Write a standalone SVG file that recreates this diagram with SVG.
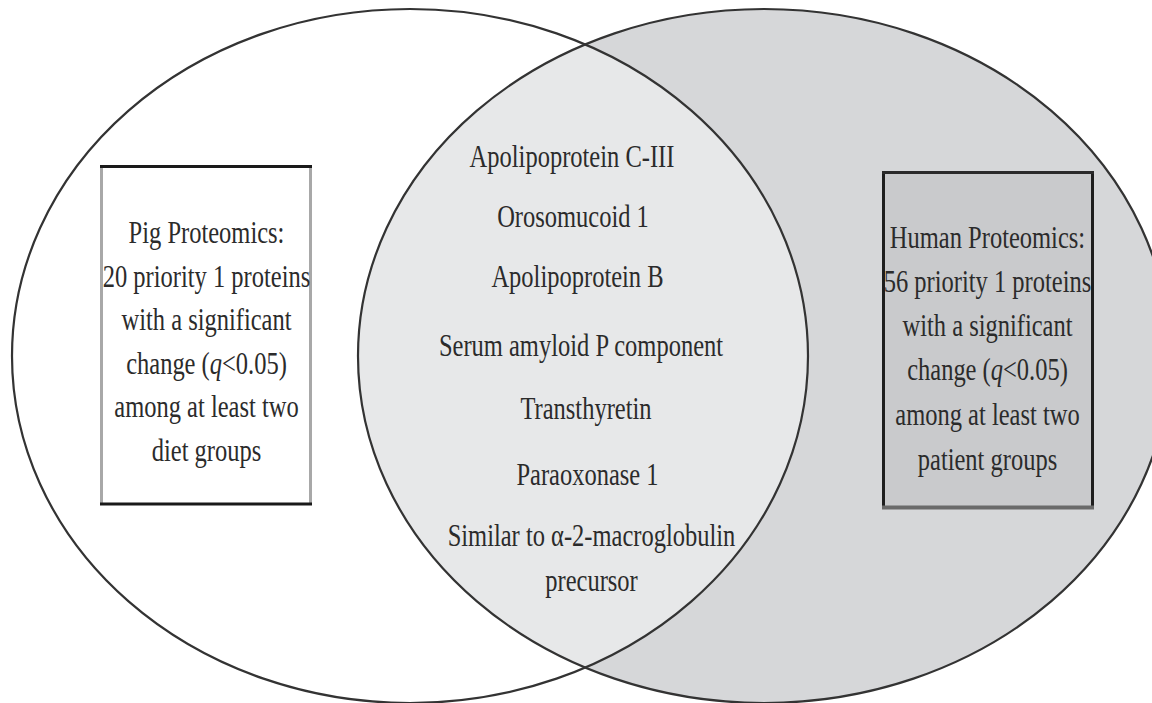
<svg xmlns="http://www.w3.org/2000/svg" width="1152" height="703" viewBox="0 0 1152 703">
  <defs>
    <clipPath id="clipLeft">
      <ellipse cx="410" cy="356" rx="398" ry="347"/>
    </clipPath>
    <style>
      .set { stroke: #333333; stroke-width: 2.2; }
      .t { font-family: "Liberation Serif", "Times New Roman", serif; font-size: 24.5px; fill: #2b2b2b; text-anchor: middle; }
      .q { font-style: italic; }
    </style>
  </defs>
  <rect x="0" y="0" width="1152" height="703" fill="#ffffff"/>

  <g id="pig-set">
    <ellipse cx="410" cy="356" rx="398" ry="347" fill="#ffffff"/>
  </g>
  <g id="human-set">
    <ellipse cx="764" cy="356" rx="406" ry="347" fill="#d6d7d9"/>
  </g>
  <g id="overlap">
    <ellipse cx="764" cy="356" rx="406" ry="347" fill="#e7e8e9" clip-path="url(#clipLeft)"/>
    <text class="t" transform="translate(572,167) scale(1,1.27)">Apolipoprotein C-III</text>
    <text class="t" transform="translate(573,227) scale(1,1.27)">Orosomucoid 1</text>
    <text class="t" transform="translate(577.5,287) scale(1,1.27)">Apolipoprotein B</text>
    <text class="t" transform="translate(581,356) scale(1,1.27)">Serum amyloid P component</text>
    <text class="t" transform="translate(586,419) scale(1,1.27)">Transthyretin</text>
    <text class="t" transform="translate(587.5,485) scale(1,1.27)">Paraoxonase 1</text>
    <text class="t" transform="translate(591.5,546) scale(1,1.27)">Similar to α-2-macroglobulin</text>
    <text class="t" transform="translate(591.5,591) scale(1,1.27)">precursor</text>
  </g>
  <g id="set-outlines">
    <ellipse class="set" cx="410" cy="356" rx="398" ry="347" fill="none"/>
    <ellipse class="set" cx="764" cy="356" rx="406" ry="347" fill="none"/>
  </g>

  <g id="pig-box">
    <rect x="101.5" y="167" width="209.5" height="337" fill="#ffffff"/>
    <line x1="101.5" y1="166" x2="101.5" y2="505" stroke="#a8a8a8" stroke-width="3"/>
    <line x1="310.5" y1="166" x2="310.5" y2="505" stroke="#a8a8a8" stroke-width="3"/>
    <line x1="100" y1="166.5" x2="312" y2="166.5" stroke="#1a1a1a" stroke-width="3"/>
    <line x1="100" y1="504" x2="312" y2="504" stroke="#1a1a1a" stroke-width="3"/>
    <text class="t" transform="translate(206.5,243) scale(1,1.27)">Pig Proteomics:</text>
    <text class="t" transform="translate(206.5,286.5) scale(1,1.27)">20 priority 1 proteins</text>
    <text class="t" transform="translate(206.5,330) scale(1,1.27)">with a significant</text>
    <text class="t" transform="translate(206.5,373.5) scale(1,1.27)">change (<tspan class="q">q</tspan>&lt;0.05)</text>
    <text class="t" transform="translate(206.5,417) scale(1,1.27)">among at least two</text>
    <text class="t" transform="translate(206.5,460.5) scale(1,1.27)">diet groups</text>
  </g>

  <g id="human-box">
    <rect x="883.5" y="172.5" width="209" height="335" fill="#c9cacc"/>
    <line x1="883.5" y1="171" x2="883.5" y2="509" stroke="#1e1e1e" stroke-width="3"/>
    <line x1="1092.5" y1="171" x2="1092.5" y2="509" stroke="#1e1e1e" stroke-width="3"/>
    <line x1="882" y1="172.5" x2="1094" y2="172.5" stroke="#2a2a2a" stroke-width="3"/>
    <line x1="882" y1="507.5" x2="1094" y2="507.5" stroke="#6a6a6a" stroke-width="4"/>
    <text class="t" transform="translate(987.5,248) scale(1,1.27)">Human Proteomics:</text>
    <text class="t" transform="translate(987.5,292) scale(1,1.27)">56 priority 1 proteins</text>
    <text class="t" transform="translate(987.5,336) scale(1,1.27)">with a significant</text>
    <text class="t" transform="translate(987.5,380) scale(1,1.27)">change (<tspan class="q">q</tspan>&lt;0.05)</text>
    <text class="t" transform="translate(987.5,425) scale(1,1.27)">among at least two</text>
    <text class="t" transform="translate(987.5,470) scale(1,1.27)">patient groups</text>
  </g>
</svg>
